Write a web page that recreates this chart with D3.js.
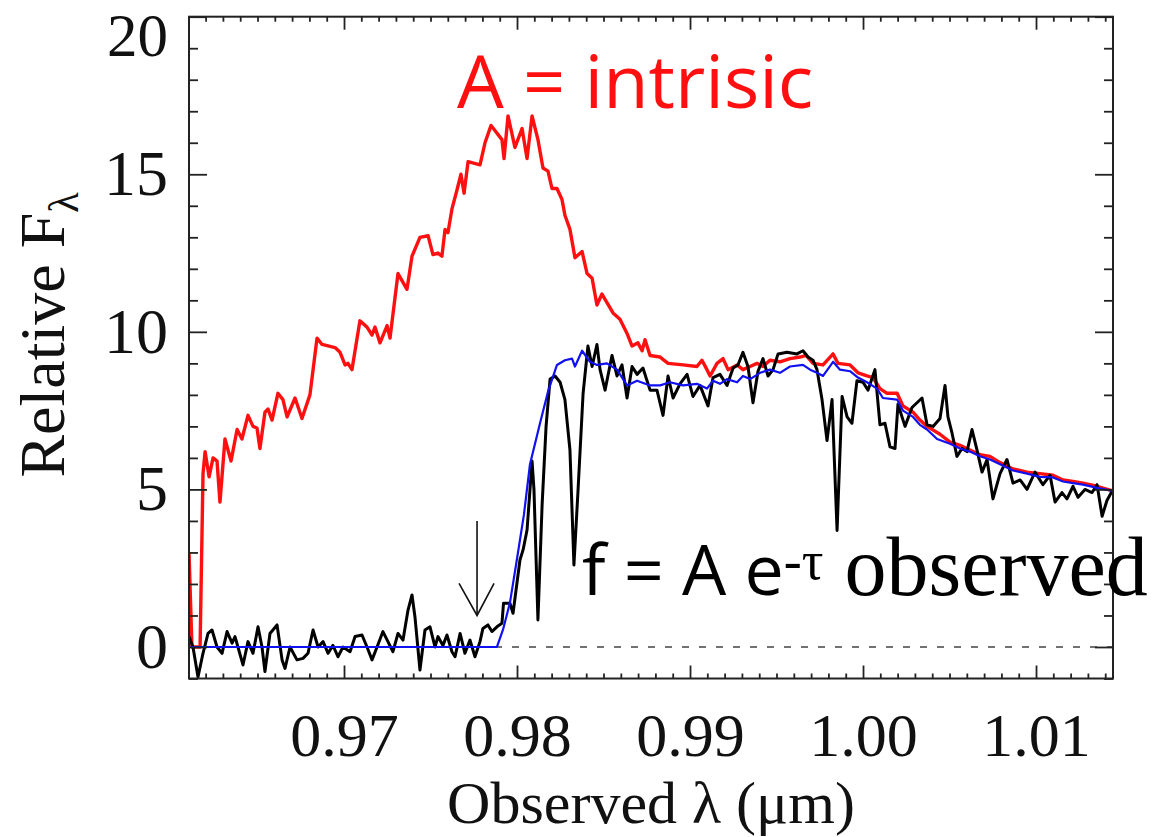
<!DOCTYPE html>
<html><head><meta charset="utf-8">
<script src="https://cdn.jsdelivr.net/npm/d3@7"></script>
<style>body{margin:0;background:#fff}</style>
</head><body>
<svg id="chart" width="1164" height="837"></svg>
<script>
// ---- data (wavelength in µm, relative flux) ----
const xTickValues = [0.97, 0.98, 0.99, 1.00, 1.01];
const xTickLabels = ["0.97", "0.98", "0.99", "1.00", "1.01"];
const yTickValues = [0, 5, 10, 15, 20];
const yTickLabels = ["0", "5", "10", "15", "20"];

const intrinsicLambda = [0.96104,0.96121,0.96168,0.96185,0.96197,0.96220,0.96243,0.96266,0.96283,0.96312,
0.96347,0.96382,0.96410,0.96445,0.96474,0.96497,0.96514,0.96543,0.96561,0.96584,
0.96618,0.96647,0.96671,0.96717,0.96757,0.96803,0.96844,0.96873,0.96948,0.96977,
0.97006,0.97023,0.97046,0.97092,0.97133,0.97162,0.97179,0.97208,0.97249,0.97266,
0.97312,0.97364,0.97393,0.97439,0.97486,0.97514,0.97543,0.97566,0.97584,0.97601,
0.97624,0.97653,0.97676,0.97694,0.97717,0.97786,0.97815,0.97850,0.97913,0.97925,
0.97948,0.97988,0.98029,0.98058,0.98087,0.98121,0.98150,0.98179,0.98202,0.98231,
0.98260,0.98277,0.98306,0.98335,0.98376,0.98405,0.98434,0.98462,0.98491,0.98555,
0.98595,0.98636,0.98665,0.98699,0.98723,0.98740,0.98769,0.98827,0.98873,0.98960,
0.99040,0.99069,0.99098,0.99116,0.99156,0.99191,0.99220,0.99272,0.99306,0.99347,
0.99387,0.99422,0.99462,0.99520,0.99578,0.99636,0.99671,0.99711,0.99769,0.99827,
0.99855,0.99925,0.99971,1.00023,1.00058,1.00098,1.00139,1.00197,1.00231,1.00289,
1.00329,1.00370,1.00445,1.00503,1.00561,1.00618,1.00676,1.00734,1.00792,1.00867,
1.00948,1.01023,1.01098,1.01156,1.01214,1.01272,1.01353,1.01445];
const intrinsicFlux = [3.0,0.0,0.0,5.5,6.2,5.4,6.0,5.9,4.6,6.6,
5.9,6.9,6.6,7.35,7.0,6.95,6.3,7.45,7.55,7.2,
8.05,7.85,7.3,7.9,7.25,8.0,9.8,9.6,9.5,9.35,
8.95,9.0,8.8,10.35,10.15,9.9,10.15,9.65,10.2,9.8,
11.85,11.35,12.4,13.0,13.05,12.45,12.5,12.4,13.25,13.15,
13.9,14.5,15.0,14.4,15.4,15.3,16.0,16.55,16.1,15.5,
16.85,15.85,16.45,15.5,16.85,16.1,15.2,15.1,14.55,14.55,
14.2,13.7,13.25,12.35,12.55,11.85,11.7,10.85,11.2,10.6,
10.4,9.95,9.55,9.65,9.4,9.75,9.25,9.2,9.0,8.95,
8.9,9.1,8.8,8.6,9.0,9.15,8.8,8.95,8.8,8.9,
9.0,8.9,9.1,9.05,9.15,9.2,9.25,9.0,8.95,9.3,
9.0,8.95,8.7,8.6,8.55,8.2,8.05,8.05,7.65,7.45,
7.2,7.0,6.75,6.5,6.4,6.25,6.1,6.05,5.85,5.65,
5.55,5.5,5.45,5.3,5.25,5.2,5.1,4.95];

const observedLambda = [0.96104,0.96127,0.96156,0.96185,0.96214,0.96237,0.96266,0.96295,0.96324,0.96353,
0.96370,0.96387,0.96416,0.96445,0.96474,0.96503,0.96526,0.96543,0.96572,0.96613,
0.96642,0.96659,0.96688,0.96728,0.96763,0.96792,0.96821,0.96850,0.96879,0.96908,
0.96936,0.96965,0.96994,0.97035,0.97064,0.97104,0.97133,0.97162,0.97191,0.97225,
0.97254,0.97283,0.97312,0.97341,0.97370,0.97393,0.97410,0.97439,0.97468,0.97497,
0.97526,0.97543,0.97572,0.97595,0.97624,0.97642,0.97671,0.97699,0.97728,0.97757,
0.97786,0.97803,0.97832,0.97855,0.97884,0.97913,0.97922,0.97959,0.97977,0.98017,
0.98035,0.98058,0.98087,0.98098,0.98121,0.98145,0.98168,0.98191,0.98220,0.98249,
0.98277,0.98306,0.98329,0.98353,0.98382,0.98410,0.98434,0.98462,0.98480,0.98509,
0.98549,0.98578,0.98607,0.98636,0.98665,0.98694,0.98728,0.98769,0.98809,0.98844,
0.98873,0.98902,0.98942,0.98983,0.99017,0.99058,0.99104,0.99133,0.99173,0.99214,
0.99249,0.99277,0.99306,0.99335,0.99364,0.99393,0.99422,0.99451,0.99480,0.99509,
0.99561,0.99618,0.99653,0.99682,0.99711,0.99734,0.99763,0.99792,0.99821,0.99850,
0.99879,0.99908,0.99936,0.99965,1.00000,1.00029,1.00069,1.00098,1.00127,1.00156,
1.00185,1.00202,1.00243,1.00283,1.00341,1.00370,1.00405,1.00445,1.00474,1.00491,
1.00514,1.00543,1.00572,1.00601,1.00630,1.00659,1.00688,1.00717,1.00751,1.00792,
1.00832,1.00867,1.00908,1.00948,1.00994,1.01040,1.01081,1.01110,1.01150,1.01179,
1.01214,1.01243,1.01283,1.01324,1.01353,1.01382,1.01410,1.01445];
const observedFlux = [0.33,0.0,-0.95,-0.2,0.43,0.54,0.0,-0.2,0.49,0.12,
0.33,0.0,-0.57,0.17,-0.2,0.64,0.0,-0.78,0.43,0.70,
-0.41,-0.68,0.0,-0.41,-0.36,-0.2,0.54,0.0,0.17,-0.2,
0.05,-0.31,0.0,-0.15,0.33,0.38,0.0,-0.41,0.0,0.49,
0.17,-0.15,0.43,0.22,1.17,1.65,0.96,-0.73,0.54,0.64,
0.0,0.33,0.05,0.38,-0.15,-0.31,0.43,-0.2,0.22,-0.31,
0.17,0.59,0.70,0.49,0.64,0.75,1.39,1.39,1.07,2.76,
3.08,3.71,5.9,5.0,0.86,4.5,7.0,8.5,8.6,8.4,
7.85,6.25,2.6,5.0,8.05,9.55,8.9,9.6,8.8,8.15,
9.25,8.6,8.95,7.9,8.9,8.65,8.85,8.15,8.15,7.35,
8.6,7.9,8.35,8.65,7.95,8.3,7.65,8.55,8.65,8.3,
8.85,8.95,9.35,8.9,7.75,8.75,9.15,8.6,8.8,9.3,
9.35,9.3,9.4,9.2,9.1,8.8,7.85,6.55,7.85,3.7,
7.95,7.3,7.1,8.45,8.4,8.15,8.8,7.05,7.1,6.35,
6.3,7.7,7.0,7.6,7.9,7.05,7.0,7.25,8.3,7.3,
6.8,6.05,6.3,6.2,6.9,6.25,5.55,5.95,4.7,5.5,
5.95,5.2,5.3,5.0,5.55,5.15,5.45,4.6,4.9,4.7,
5.1,4.75,5.0,4.9,5.15,4.15,4.65,5.0];

const modelLambda = [0.96104,0.97884,0.97919,0.97959,0.98000,0.98040,0.98075,0.98133,0.98179,0.98231,
0.98277,0.98318,0.98335,0.98376,0.98422,0.98462,0.98520,0.98578,0.98636,0.98694,
0.98769,0.98827,0.98884,0.98960,0.99040,0.99098,0.99133,0.99173,0.99214,0.99272,
0.99306,0.99347,0.99405,0.99462,0.99520,0.99578,0.99653,0.99694,0.99734,0.99769,
0.99827,0.99867,0.99925,0.99971,1.00023,1.00081,1.00115,1.00197,1.00231,1.00289,
1.00329,1.00370,1.00428,1.00503,1.00561,1.00618,1.00676,1.00734,1.00792,1.00867,
1.00948,1.01023,1.01098,1.01156,1.01214,1.01272,1.01353,1.01445];
const modelFlux = [0,0,0.55,1.4,2.8,4.2,5.8,7.1,8.1,8.95,
9.1,9.15,8.9,9.4,9.05,8.95,9.0,8.8,8.3,8.45,
8.3,8.3,8.4,8.3,8.35,8.2,8.45,8.35,8.5,8.4,
8.6,8.5,8.7,8.8,8.7,8.9,8.95,8.8,8.7,8.6,
9.05,8.8,8.75,8.55,8.4,8.2,7.9,7.85,7.5,7.3,
7.05,6.9,6.6,6.45,6.3,6.2,6.05,5.95,5.8,5.6,
5.5,5.4,5.38,5.25,5.2,5.15,5.05,4.95];

// annotation anchors (data units)
const arrowLambda = 0.97769, arrowFrom = 4.0, arrowTo = 1.0;
const labelIntrinsic = {text: "A = intrisic", lambda: 0.97653, flux: 17.1};
const labelObserved = {lambda: 0.98376, flux: 1.65};

// ---- drawing ----
const svg = d3.select("#chart");
const x = d3.scaleLinear().domain([0.96104, 1.01445]).range([189, 1113]);
const y = d3.scaleLinear().domain([-1, 20]).range([678.5, 16.7]);
const serif = "'Liberation Serif','Times New Roman',serif";
const sans = "'Open Sans','Noto Sans',sans-serif";
const [x0, x1] = x.range(), [y0, y1] = y.range();

svg.append("defs").append("clipPath").attr("id", "plotclip")
  .append("rect").attr("x", x0).attr("y", y1).attr("width", x1 - x0).attr("height", y0 - y1);

// zero reference line
svg.append("line")
  .attr("x1", x0).attr("x2", x1).attr("y1", y(0)).attr("y2", y(0))
  .attr("stroke", "#444").attr("stroke-width", 1.5).attr("stroke-dasharray", "7,10");

const line = d3.line().x(d => x(d[0])).y(d => y(d[1]));
const plot = svg.append("g").attr("clip-path", "url(#plotclip)");
plot.append("path").datum(d3.zip(intrinsicLambda, intrinsicFlux))
  .attr("d", line).attr("fill", "none").attr("stroke", "#ff1010").attr("stroke-width", 3.4).attr("stroke-linejoin", "round");
plot.append("path").datum(d3.zip(observedLambda, observedFlux))
  .attr("d", line).attr("fill", "none").attr("stroke", "#000").attr("stroke-width", 3).attr("stroke-linejoin", "round");
plot.append("path").datum(d3.zip(modelLambda, modelFlux))
  .attr("d", line).attr("fill", "none").attr("stroke", "#1010f0").attr("stroke-width", 2.2).attr("stroke-linejoin", "round");

// axes (inward ticks on all four sides)
const xMinor = d3.range(962, 1015).map(v => v / 1000).filter(v => !xTickValues.some(t => Math.abs(t - v) < 1e-6));
const yMinor = d3.range(-1, 21).filter(v => v % 5 !== 0);
function styleAxis(g) {
  g.select(".domain").remove();
  g.selectAll(".tick line").attr("stroke", "#222").attr("stroke-width", 1.8);
}
svg.append("g").attr("transform", `translate(0,${y0})`)
  .call(d3.axisBottom(x).tickValues(xMinor).tickSize(-5).tickFormat(""))
  .call(styleAxis);
svg.append("g").attr("transform", `translate(0,${y1})`)
  .call(d3.axisTop(x).tickValues(xMinor).tickSize(-5).tickFormat(""))
  .call(styleAxis);
svg.append("g").attr("transform", `translate(0,${y1})`)
  .call(d3.axisTop(x).tickValues(xTickValues).tickSize(-13).tickFormat(""))
  .call(styleAxis);
const xAxis = svg.append("g").attr("transform", `translate(0,${y0})`)
  .call(d3.axisBottom(x).tickValues(xTickValues).tickSize(-13).tickPadding(33)
    .tickFormat((d, i) => xTickLabels[i]))
  .call(styleAxis);
xAxis.selectAll("text").attr("font-family", serif).attr("font-size", 62).attr("fill", "#111");

svg.append("g").attr("transform", `translate(${x0},0)`)
  .call(d3.axisLeft(y).tickValues(yMinor).tickSize(-9).tickFormat(""))
  .call(styleAxis);
svg.append("g").attr("transform", `translate(${x1},0)`)
  .call(d3.axisRight(y).tickValues(yMinor).tickSize(-9).tickFormat(""))
  .call(styleAxis);
svg.append("g").attr("transform", `translate(${x1},0)`)
  .call(d3.axisRight(y).tickValues(yTickValues).tickSize(-18).tickFormat(""))
  .call(styleAxis);
const yAxis = svg.append("g").attr("transform", `translate(${x0},0)`)
  .call(d3.axisLeft(y).tickValues(yTickValues).tickSize(-18).tickPadding(21)
    .tickFormat((d, i) => yTickLabels[i]))
  .call(styleAxis);
yAxis.selectAll("text").attr("font-family", serif).attr("fill", "#111")
  .attr("font-size", d => d === 20 ? 61 : 64)
  .attr("dy", d => d === 20 ? 38.5 : "0.32em");

// frame
svg.append("rect").attr("x", x0).attr("y", y1).attr("width", x1 - x0).attr("height", y0 - y1)
  .attr("fill", "none").attr("stroke", "#222").attr("stroke-width", 2);

// axis titles
svg.append("text").attr("x", (x0 + x1) / 2).attr("y", 823)
  .attr("text-anchor", "middle").attr("font-family", serif).attr("font-size", 60).attr("fill", "#111")
  .text("Observed \u03bb (\u03bcm)");

const yt = svg.append("text").attr("transform", "translate(64,335) rotate(-90)")
  .attr("text-anchor", "middle").attr("font-family", serif).attr("font-size", 64).attr("fill", "#111");
yt.append("tspan").text("Relative F");
yt.append("tspan").attr("font-size", 42).attr("dy", 14).text("\u03bb");

// annotations
svg.append("text").attr("x", x(labelIntrinsic.lambda)).attr("y", y(labelIntrinsic.flux))
  .attr("font-family", sans).attr("font-size", 74).attr("fill", "#ff1010").text(labelIntrinsic.text);

const ot = svg.append("text").attr("x", x(labelObserved.lambda)).attr("y", y(labelObserved.flux))
  .attr("font-family", sans).attr("font-size", 70).attr("fill", "#000");
ot.append("tspan").text("f = A e");
ot.append("tspan").attr("font-family", serif).attr("font-size", 54).attr("dy", -16).text("-\u03c4");
ot.append("tspan").attr("font-family", serif).attr("font-size", 84).attr("dy", 16).text(" observed");

// arrow
const ax = x(arrowLambda);
const arrow = svg.append("g").attr("stroke", "#111").attr("stroke-width", 1.6).attr("fill", "none");
arrow.append("line").attr("x1", ax).attr("x2", ax).attr("y1", y(arrowFrom)).attr("y2", y(arrowTo));
arrow.append("path").attr("d", `M${ax - 18},${y(arrowTo) - 32}L${ax},${y(arrowTo)}L${ax + 17},${y(arrowTo) - 32}`);
</script>
</body></html>
